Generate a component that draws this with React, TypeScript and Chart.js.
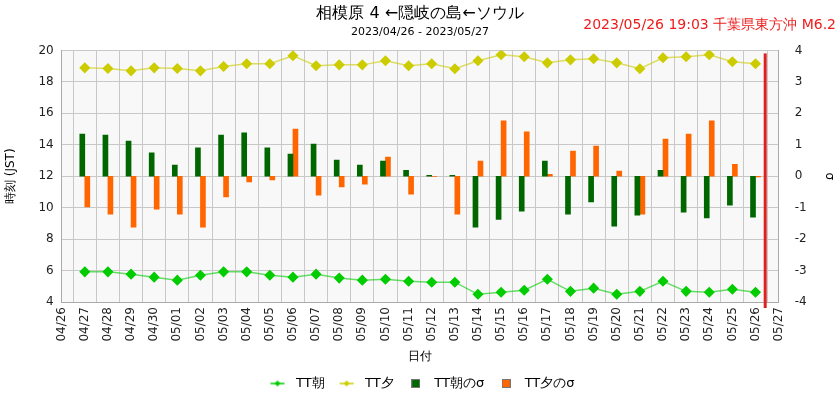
import { useEffect, useRef } from 'react';
import { Chart, registerables } from 'chart.js';
Chart.register(...registerables);

const dateLabels = ['04/26','04/27','04/28','04/29','04/30','05/01','05/02','05/03','05/04','05/05','05/06','05/07','05/08','05/09','05/10','05/11','05/12','05/13','05/14','05/15','05/16','05/17','05/18','05/19','05/20','05/21','05/22','05/23','05/24','05/25','05/26','05/27'];

// 04/27 .. 05/26
const ttAsa = [5.92,5.92,5.77,5.58,5.39,5.70,5.92,5.92,5.70,5.58,5.77,5.52,5.39,5.45,5.32,5.26,5.26,4.49,4.62,4.75,5.45,4.68,4.88,4.49,4.68,5.32,4.68,4.62,4.81,4.62];
const ttYu = [18.89,18.85,18.70,18.89,18.85,18.70,18.98,19.15,19.15,19.66,19.02,19.08,19.08,19.34,19.02,19.15,18.83,19.34,19.72,19.60,19.21,19.40,19.47,19.21,18.83,19.53,19.60,19.72,19.28,19.15];
const asaSigma = [1.34,1.31,1.12,0.74,0.35,0.90,1.31,1.38,0.90,0.70,1.02,0.51,0.35,0.48,0.19,0.03,0.03,-1.62,-1.37,-1.11,0.48,-1.21,-0.82,-1.59,-1.24,0.19,-1.14,-1.33,-0.92,-1.30];
const yuSigma = [-0.98,-1.21,-1.62,-1.05,-1.21,-1.62,-0.66,-0.18,-0.12,1.50,-0.60,-0.34,-0.25,0.61,-0.57,-0.01,-1.21,0.48,1.76,1.41,0.06,0.80,0.96,0.16,-1.21,1.18,1.34,1.76,0.38,-0.02];

// 2023/05/26 19:03 JST = 10:03 UTC
const quakeDay = 30 + (10 + 3 / 60) / 24;
const quakeText = '2023/05/26 19:03 千葉県東方沖 M6.2';

const FONT = "'DejaVu Sans', sans-serif";

const toXY = (vals: number[]) => vals.map((v, i) => ({ x: i + 1, y: v }));

function lineIcon(color: string) {
  const c = document.createElement('canvas');
  c.width = 16; c.height = 8;
  const g = c.getContext('2d')!;
  g.strokeStyle = color; g.lineWidth = 1.5;
  g.beginPath(); g.moveTo(1, 4); g.lineTo(15, 4); g.stroke();
  g.fillStyle = color;
  g.beginPath(); g.moveTo(8, 1); g.lineTo(11, 4); g.lineTo(8, 7); g.lineTo(5, 4); g.closePath(); g.fill();
  return c;
}

function boxIcon(color: string) {
  const c = document.createElement('canvas');
  c.width = 9; c.height = 9;
  const g = c.getContext('2d')!;
  g.fillStyle = '#777';
  g.fillRect(0, 0, 9, 9);
  g.fillStyle = color;
  g.fillRect(1, 1, 7, 7);
  return c;
}

const extras = {
  id: 'extras',
  beforeDraw(chart: any) {
    const { ctx, chartArea: a } = chart;
    ctx.save();
    ctx.fillStyle = '#f8f8f8';
    ctx.fillRect(a.left, a.top, a.right - a.left, a.bottom - a.top);
    ctx.restore();
  },
  afterDatasetsDraw(chart: any) {
    const { ctx, chartArea: a, scales } = chart;
    const x = scales.x.getPixelForValue(quakeDay);
    ctx.save();
    ctx.strokeStyle = '#e02020';
    ctx.lineWidth = 3;
    ctx.beginPath();
    ctx.moveTo(x, a.top + 3);
    ctx.lineTo(x, a.bottom + 6);
    ctx.stroke();
    ctx.restore();
  },
  afterDraw(chart: any) {
    const { ctx } = chart;
    ctx.save();
    ctx.fillStyle = '#ee1c1c';
    ctx.font = `14px ${FONT}`;
    ctx.textAlign = 'right';
    ctx.textBaseline = 'middle';
    ctx.fillText(quakeText, 836, 25);
    ctx.restore();
  },
};

export default function App() {
  const ref = useRef<HTMLCanvasElement>(null);

  useEffect(() => {
    Chart.defaults.font.family = FONT;
    Chart.defaults.color = '#222';
    const icons = [lineIcon('#00cc00'), lineIcon('#cccc00'), boxIcon('#006600'), boxIcon('#ff6600')];

    const chart = new Chart(ref.current!, {
      type: 'bar',
      data: {
        datasets: [
          {
            type: 'line',
            label: 'TT朝',
            data: toXY(ttAsa),
            yAxisID: 'y',
            borderColor: 'rgba(0,204,0,0.6)',
            backgroundColor: '#00cc00',
            pointBackgroundColor: '#00cc00',
            pointBorderColor: '#00cc00',
            pointStyle: 'rectRot',
            pointRadius: 4.5,
            borderWidth: 1.5,
            order: 0,
          },
          {
            type: 'line',
            label: 'TT夕',
            data: toXY(ttYu),
            yAxisID: 'y',
            borderColor: 'rgba(204,204,0,0.6)',
            backgroundColor: '#cccc00',
            pointBackgroundColor: '#cccc00',
            pointBorderColor: '#cccc00',
            pointStyle: 'rectRot',
            pointRadius: 4.5,
            borderWidth: 1.5,
            order: 0,
          },
          {
            label: 'TT朝のσ',
            data: toXY(asaSigma),
            yAxisID: 'y1',
            backgroundColor: '#006600',
            barThickness: 5,
            order: 1,
          },
          {
            label: 'TT夕のσ',
            data: toXY(yuSigma),
            yAxisID: 'y1',
            backgroundColor: '#ff6600',
            barThickness: 5,
            order: 1,
          },
        ],
      },
      options: {
        responsive: true,
        maintainAspectRatio: false,
        animation: false,
        layout: { padding: { left: 0, right: 0, top: 0, bottom: 0 } },
        plugins: {
          title: {
            display: true,
            text: '相模原 4 ←隠岐の島←ソウル',
            font: { size: 16, weight: 'normal' },
            color: '#000',
            padding: { top: 4, bottom: 2 },
          },
          subtitle: {
            display: true,
            text: '2023/04/26 - 2023/05/27',
            font: { size: 11 },
            color: '#000',
            padding: { top: 0, bottom: 12 },
          },
          legend: {
            position: 'bottom',
            labels: {
              usePointStyle: true,
              pointStyleWidth: 24,
              boxHeight: 8,
              padding: 10,
              font: { size: 13 },
              color: '#222',
              generateLabels: (c: any) =>
                c.data.datasets.map((ds: any, i: number) => ({
                  text: ds.label,
                  pointStyle: icons[i],
                  fillStyle: ds.backgroundColor,
                  strokeStyle: ds.backgroundColor,
                  lineWidth: 0,
                  hidden: false,
                  datasetIndex: i,
                })),
            },
          },
          tooltip: { enabled: false },
        },
        scales: {
          x: {
            type: 'linear',
            min: 0,
            max: 31,
            offset: false,
            ticks: {
              stepSize: 1,
              autoSkip: false,
              maxRotation: 90,
              minRotation: 90,
              padding: 5,
              font: { size: 12 },
              color: '#222',
              callback: (v: any) => dateLabels[v] ?? '',
            },
            grid: { color: '#c8c8c8', drawTicks: false },
            border: { color: '#aaa' },
            title: { display: true, text: '日付', font: { size: 12 }, color: '#000', padding: { top: 3, bottom: 3 } },
          },
          y: {
            position: 'left',
            min: 4,
            max: 20,
            ticks: { stepSize: 2, font: { size: 12 }, color: '#222', padding: 8 },
            grid: { color: '#c8c8c8', drawTicks: false },
            border: { color: '#aaa' },
            title: { display: true, text: '時刻 (JST)', font: { size: 12 }, color: '#000', padding: { top: 4, bottom: 12 } },
          },
          y1: {
            position: 'right',
            min: -4,
            max: 4,
            ticks: { stepSize: 1, font: { size: 12 }, color: '#222', padding: 8 },
            grid: { display: false },
            border: { color: '#aaa' },
            title: { display: true, text: 'σ', font: { size: 12 }, color: '#000', padding: { top: 4, bottom: 7 } },
          },
        },
      },
      plugins: [extras],
    });

    return () => chart.destroy();
  }, []);

  return (
    <div style={{ position: 'fixed', left: 0, top: 0, width: 840, height: 400, background: '#fff' }}>
      <canvas ref={ref} />
    </div>
  );
}
